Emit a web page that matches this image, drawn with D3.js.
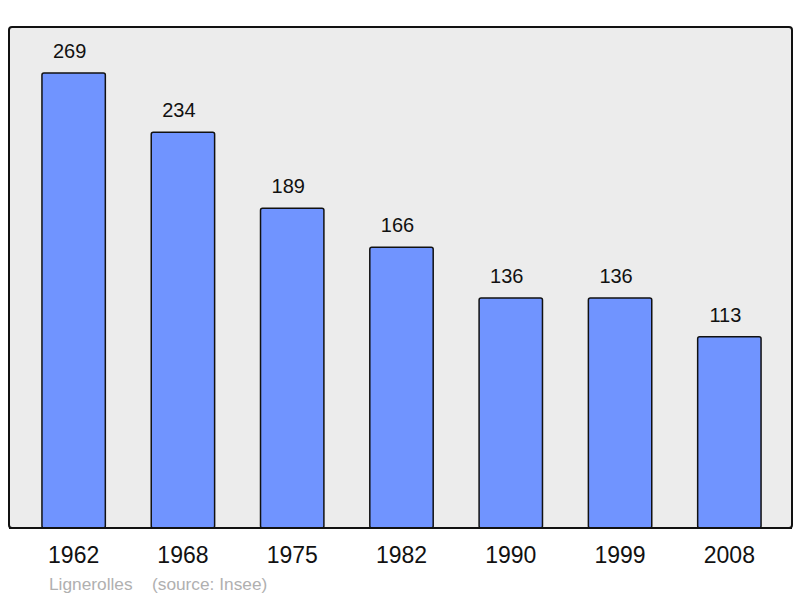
<!DOCTYPE html>
<html>
<head>
<meta charset="utf-8">
<script src="https://cdn.jsdelivr.net/npm/d3@7"></script>
<style>
  body { margin: 0; background: #fff; }
  text { font-family: "Liberation Sans", Arial, sans-serif; }
</style>
</head>
<body>
<svg id="chart" width="800" height="598"></svg>
<script>
// population by census year
const years = ["1962", "1968", "1975", "1982", "1990", "1999", "2008"];
const population = [269, 234, 189, 166, 136, 136, 113];
const commune = "Lignerolles";
const source = "(source: Insee)";

const svg = d3.select("#chart");

// plot frame
const frame = {left: 9, top: 27, right: 792, bottom: 528};

svg.append("rect")
    .attr("x", frame.left)
    .attr("y", frame.top)
    .attr("width", frame.right - frame.left)
    .attr("height", frame.bottom - frame.top)
    .attr("rx", 3)
    .attr("fill", "#ececec")
    .attr("stroke", "#111")
    .attr("stroke-width", 2);

const x = d3.scaleBand()
    .domain(years)
    .range([19, 784])
    .paddingInner(0.42)
    .paddingOuter(0.21);

const y = d3.scaleLinear()
    .domain([0, 269])
    .range([frame.bottom, 73]);

svg.selectAll("rect.bar")
    .data(population)
    .enter().append("rect")
    .attr("class", "bar")
    .attr("x", (d, i) => x(years[i]))
    .attr("y", d => y(d))
    .attr("width", x.bandwidth())
    .attr("height", d => frame.bottom - y(d))
    .attr("rx", 2)
    .attr("fill", "#7094ff")
    .attr("stroke", "#111")
    .attr("stroke-width", 1.5);

// redraw bottom border over bars
svg.append("line")
    .attr("x1", frame.left).attr("x2", frame.right)
    .attr("y1", frame.bottom).attr("y2", frame.bottom)
    .attr("stroke", "#111").attr("stroke-width", 2);

// value labels sit a little left of bar centre
svg.selectAll("text.val")
    .data(population)
    .enter().append("text")
    .attr("class", "val")
    .attr("x", (d, i) => x(years[i]) + x.bandwidth() / 2 - 4)
    .attr("y", d => y(d) - 15)
    .attr("text-anchor", "middle")
    .attr("font-size", 20)
    .attr("fill", "#111")
    .text(d => d);

// year axis, no line or ticks
const xAxis = svg.append("g")
    .attr("transform", `translate(0,${frame.bottom})`)
    .call(d3.axisBottom(x).tickSize(0).tickPadding(19));
xAxis.select(".domain").remove();
xAxis.selectAll("text")
    .attr("font-size", 23)
    .attr("font-family", "Liberation Sans, Arial, sans-serif")
    .attr("fill", "#111");

svg.append("text")
    .attr("x", 49).attr("y", 590)
    .attr("font-size", 17.3)
    .attr("fill", "#b0b0b0")
    .text(commune);
svg.append("text")
    .attr("x", 152).attr("y", 590)
    .attr("font-size", 17.3)
    .attr("fill", "#b0b0b0")
    .text(source);
</script>
</body>
</html>
